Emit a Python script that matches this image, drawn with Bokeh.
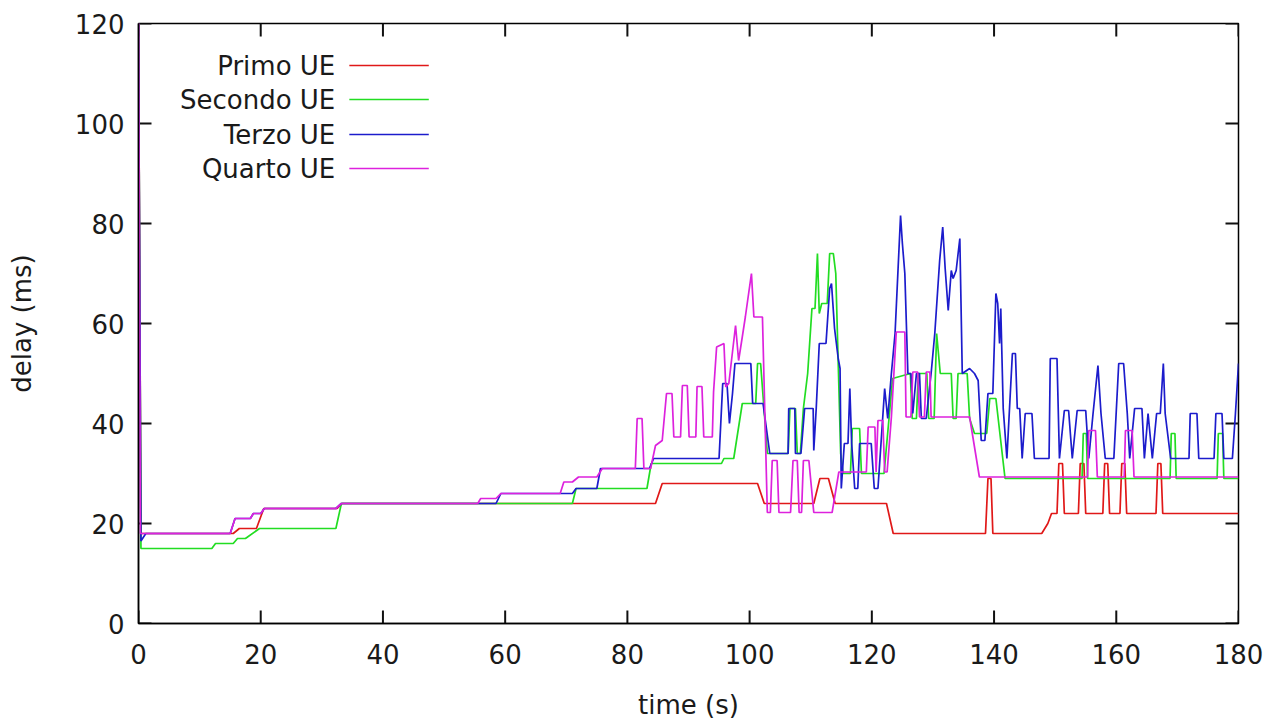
from bokeh.plotting import figure
from bokeh.models import FixedTicker
from bokeh.core.properties import value
from bokeh.embed import file_html
from bokeh.resources import INLINE

# ---------------- data ----------------
x_ticks = [0, 20, 40, 60, 80, 100, 120, 140, 160, 180]
y_ticks = [0, 20, 40, 60, 80, 100, 120]
series_names = ["Primo UE", "Secondo UE", "Terzo UE", "Quarto UE"]

primo = [(0, 120), (0.4, 18), (15.5, 18), (16.5, 19), (19.3, 19), (20.5, 23), (32.5, 23), (33.3, 24),
         (84.6, 24), (85.7, 28), (101.3, 28), (102.4, 24), (110.5, 24), (111.5, 29), (112.9, 29), (114.0, 24),
         (122.4, 24), (123.5, 18), (138.6, 18), (139.0, 29), (139.5, 29), (139.8, 18), (147.8, 18), (148.8, 20),
         (149.4, 22), (150.3, 22), (150.6, 32), (151.2, 32), (151.5, 22), (153.8, 22), (154.1, 32), (154.7, 32),
         (155.0, 22), (157.8, 22), (158.1, 32), (158.6, 32), (158.9, 22), (160.6, 22), (160.9, 32), (161.4, 32),
         (161.7, 22), (166.5, 22), (166.8, 32), (167.3, 32), (167.6, 22), (180, 22)]

secondo = [(0, 120), (0.4, 15), (12, 15), (12.6, 16), (15.5, 16), (16.2, 17), (17.5, 17), (19.8, 19), (32.3, 19),
           (33.2, 24), (71, 24), (71.6, 27), (83.2, 27), (83.9, 32), (95.4, 32), (95.8, 33), (97.4, 33), (98.8, 44),
           (101, 44), (101.3, 52), (101.8, 52), (102.9, 34), (106.3, 34), (106.6, 43), (107.5, 43), (107.8, 34),
           (108.3, 34), (108.8, 43), (109.5, 50), (110.2, 63), (110.7, 63), (111.1, 74), (111.4, 62), (111.8, 64),
           (112.7, 64), (113.1, 74), (113.7, 74), (114.1, 70), (114.9, 34), (115.3, 30), (116.5, 30), (116.8, 39),
           (118, 39), (118.3, 30), (122, 30), (123.4, 49), (126.3, 50), (126.6, 41), (127.3, 41), (127.6, 50),
           (129, 50), (129.3, 41), (130.2, 41), (130.6, 58), (131.2, 50), (133, 50), (133.3, 41), (133.8, 41),
           (134.1, 50), (135.6, 50), (136, 41), (136.8, 38), (138.8, 38), (139.3, 45), (140.3, 45), (141.8, 29),
           (154.4, 29), (154.6, 38), (155.1, 38), (155.3, 29), (168.8, 29), (169, 38), (169.6, 38), (169.8, 29),
           (176.5, 29), (176.7, 38), (177.4, 38), (177.6, 29), (180, 29)]

terzo = [(0, 120), (0.4, 16.5), (1.2, 18), (15, 18), (15.8, 21), (18.3, 21), (18.8, 22), (20, 22), (20.6, 23),
         (32.3, 23), (33.2, 24), (58.5, 24), (59.3, 26), (71, 26), (71.6, 27), (75, 27), (75.6, 31), (83.6, 31),
         (84.3, 33), (95, 33), (95.6, 48), (96.3, 48), (96.7, 40), (97.2, 46), (97.6, 52), (100.2, 52), (100.5, 44),
         (102.2, 44), (103.3, 34), (106.3, 34), (106.4, 43), (107.4, 43), (107.5, 34), (108.4, 34), (109, 43),
         (110.4, 43), (110.5, 34.6), (110.9, 43), (111.4, 56), (112.5, 56), (113.1, 67), (113.4, 68), (113.9, 59),
         (114.5, 53), (114.8, 51), (115, 27), (115.5, 36), (116.1, 36), (116.4, 47), (116.7, 36), (117.2, 27),
         (117.7, 27), (118, 36), (119.9, 36), (120.4, 27), (121, 27), (121.5, 36), (122.1, 47), (122.6, 41),
         (123.2, 50), (123.8, 58), (124.7, 81.6), (125, 76), (125.4, 70), (125.9, 50), (126.4, 50), (126.7, 42),
         (127.3, 50), (127.8, 50), (128.1, 41), (128.9, 41), (129.7, 50), (130.3, 58), (131.1, 72.6), (131.6, 79.3),
         (132, 71), (132.5, 62.6), (133, 70.6), (133.3, 69), (133.8, 70.6), (134.4, 77), (134.8, 50), (136, 51),
         (136.8, 50), (137.4, 48.6), (137.9, 36.6), (138.5, 36.6), (139, 46), (139.8, 46), (140.3, 66), (140.6, 64),
         (140.9, 56), (141.1, 63), (141.5, 43), (142.1, 33), (143, 54), (143.5, 54), (143.8, 43), (144.2, 43),
         (144.6, 33), (145.1, 42), (146.2, 42), (146.6, 33), (149, 33), (149.2, 53), (150.3, 53), (150.7, 33),
         (151.5, 42.6), (152.2, 42.6), (152.8, 33), (153.6, 42.6), (155, 42.6), (155.5, 33), (156.2, 42), (157, 51.6),
         (157.5, 42), (158.2, 33), (159.6, 33), (160.4, 52), (161.2, 52), (161.8, 42), (162.2, 33), (163, 43),
         (164.2, 43), (164.6, 33), (165.2, 42), (165.9, 33), (166.6, 42), (167.2, 42), (167.7, 52), (168, 42),
         (168.9, 33), (171.9, 33), (172.1, 42), (173.2, 42), (173.5, 33), (176, 33), (176.3, 42), (177.3, 42),
         (177.6, 33), (179, 33), (179.5, 42), (180, 52)]

quarto = [(0, 128), (0.3, 18), (15, 18), (15.8, 21), (18.3, 21), (18.8, 22), (20, 22), (20.6, 23), (32.3, 23),
          (33.2, 24), (55.5, 24), (56, 25), (58.5, 25), (59.3, 26), (69, 26), (69.6, 28.3), (71, 28.3), (72, 29.3),
          (75, 29.3), (75.9, 31), (81.3, 31), (81.6, 41), (82.4, 41), (82.7, 31), (83.8, 31), (84.6, 35.6),
          (85.7, 36.6), (86.4, 46), (87.3, 46), (87.6, 37.3), (88.7, 37.3), (89, 47.6), (89.8, 47.6), (90.1, 37.3),
          (91.2, 37.3), (91.4, 47.4), (92.2, 47.4), (92.5, 37.3), (93.9, 37.3), (94.1, 46.3), (94.6, 55.3),
          (95.8, 56), (96.1, 47.3), (96.6, 48), (97.7, 59.6), (98.2, 52.6), (98.8, 57.3), (99.3, 61.3), (100.3, 70),
          (100.7, 61.3), (102.1, 61.3), (102.9, 22.2), (103.4, 22.2), (103.7, 32.6), (104.5, 32.6), (104.8, 22.2),
          (106.7, 22.2), (107.1, 32.6), (107.8, 32.6), (108.1, 22.2), (108.5, 22.2), (108.8, 32.6), (109.7, 32.6),
          (110.5, 22.2), (113.5, 22.2), (114.6, 30.3), (119.1, 30.3), (119.4, 39.3), (120.5, 39.3), (120.7, 30.3),
          (121, 40.6), (121.8, 40.6), (122.1, 30.3), (122.5, 30.3), (123.2, 41.3), (124, 58.3), (125.4, 58.3),
          (125.6, 41.3), (126.4, 41.3), (126.7, 50.3), (127.5, 50.3), (127.8, 41.3), (128.6, 41.3), (128.9, 50.3),
          (129.5, 50.3), (129.7, 41.3), (136, 41.3), (137.6, 29.3), (155.3, 29.3), (155.5, 38.6), (156.6, 38.6),
          (156.9, 29.3), (161.3, 29.3), (161.5, 38.6), (162.6, 38.6), (162.9, 29.3), (180, 29.3)]

# ---------------- style / layout ----------------
FONT = "DejaVu Sans"
FS = "26px"
TXT = "#1a1a1a"
colors = ["#e01818", "#22dd22", "#1c1ccc", "#dd22dd"]
X0, X1, Y0, Y1 = 0, 180, 0, 120
FRAME_W, FRAME_H = 1100, 600
TICK_PX = 13

p = figure(width=1277, height=722, x_range=(X0, X1), y_range=(Y0, Y1),
           output_backend="svg", toolbar_location=None,
           min_border_left=138, min_border_right=39, min_border_top=23, min_border_bottom=99,
           background_fill_color="white", border_fill_color="white")
p.grid.visible = False
p.outline_line_color = "black"
p.outline_line_width = 1.5

p.xaxis.ticker = FixedTicker(ticks=x_ticks)
p.yaxis.ticker = FixedTicker(ticks=y_ticks)
p.xaxis.axis_label = "time (s)"
p.yaxis.axis_label = "delay (ms)"
for ax in (p.xaxis[0], p.yaxis[0]):
    ax.axis_line_color = "black"
    ax.axis_line_width = 1.5
    ax.major_tick_in = 0
    ax.major_tick_out = 0
    ax.minor_tick_line_color = None
    ax.major_tick_line_color = None
    ax.major_label_text_font = FONT
    ax.major_label_text_font_size = FS
    ax.major_label_text_color = TXT
    ax.axis_label_text_font = FONT
    ax.axis_label_text_font_size = FS
    ax.axis_label_text_font_style = "normal"
    ax.axis_label_text_color = TXT
p.xaxis.major_label_standoff = 20
p.xaxis.axis_label_standoff = 23
p.yaxis.major_label_standoff = 14
p.yaxis.axis_label_standoff = 35

# inward tick marks on all four sides (gnuplot mirror ticks), built from the tick lists
xlen = TICK_PX * (X1 - X0) / FRAME_W
ylen = TICK_PX * (Y1 - Y0) / FRAME_H
TICK_STYLE = dict(line_color="#111111", line_width=2)
p.segment(x0=x_ticks, x1=x_ticks, y0=[Y0] * len(x_ticks), y1=[Y0 + ylen] * len(x_ticks), **TICK_STYLE)
p.segment(x0=x_ticks, x1=x_ticks, y0=[Y1] * len(x_ticks), y1=[Y1 - ylen] * len(x_ticks), **TICK_STYLE)
p.segment(x0=[X0] * len(y_ticks), x1=[X0 + xlen] * len(y_ticks), y0=y_ticks, y1=y_ticks, **TICK_STYLE)
p.segment(x0=[X1] * len(y_ticks), x1=[X1 - xlen] * len(y_ticks), y0=y_ticks, y1=y_ticks, **TICK_STYLE)

for data, col in zip((primo, secondo, terzo, quarto), colors):
    xs = [d[0] for d in data]
    ys = [d[1] for d in data]
    p.line(xs, ys, line_color=col, line_width=1.7)

# key (gnuplot style: text right-aligned, sample line to the right)
key_text_x = 32.2
key_line_x0, key_line_x1 = 34.5, 47.5
key_rows = [111.6, 104.8, 97.8, 91.0]
p.text(x=[key_text_x] * 4, y=key_rows, text=series_names, text_align="right",
       text_baseline="middle", text_font=value(FONT), text_font_size=FS, text_color=TXT)
p.segment(x0=[key_line_x0] * 4, x1=[key_line_x1] * 4, y0=key_rows, y1=key_rows,
          line_color=colors, line_width=1.7)

open("out.html", "w").write(file_html(p, INLINE))
